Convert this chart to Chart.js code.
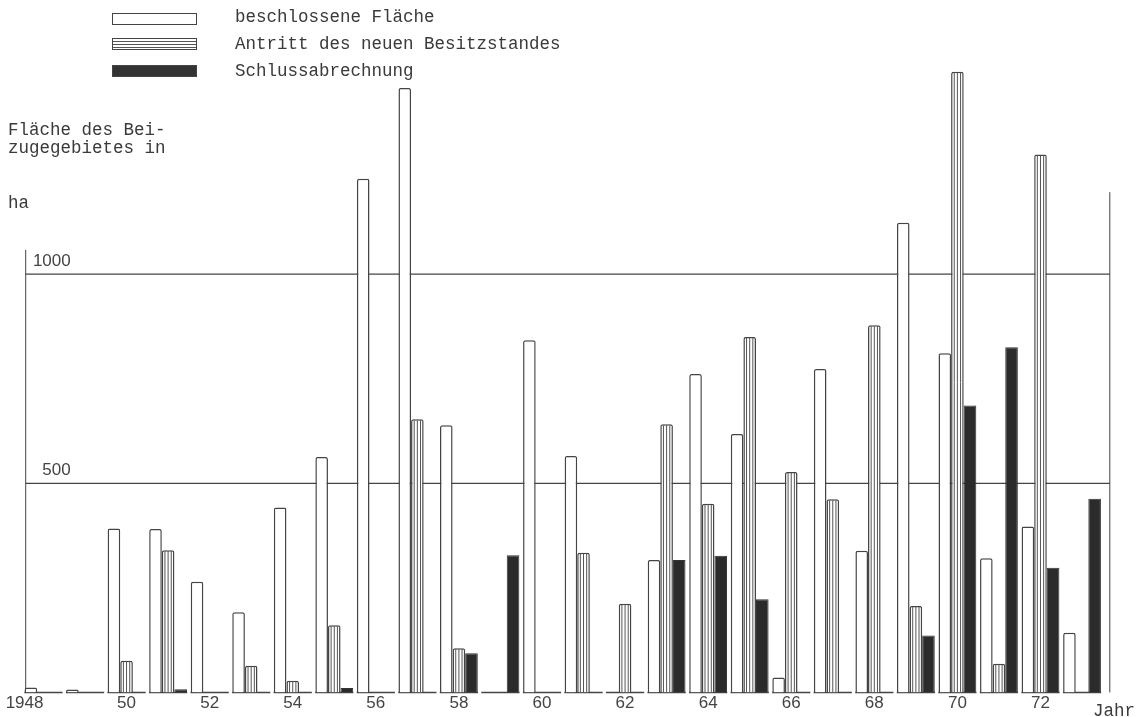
<!DOCTYPE html>
<html>
<head>
<meta charset="utf-8">
<script src="https://cdn.jsdelivr.net/npm/chart.js@4"></script>
<style>
  body { margin: 0; background: #fff; }
  #wrap { position: relative; width: 1136px; height: 717px; overflow: hidden; }
  #myChart { position: absolute; left: 0; top: 0; }
  .txt { position: absolute; font-family: "Liberation Mono", "DejaVu Sans Mono", monospace;
         font-size: 17.5px; line-height: 20px; color: #3a3a3a; white-space: pre; }
  .box { position: absolute; left: 112px; width: 83px; height: 10px; border: 1.5px solid #444; }
</style>
</head>
<body>
<div id="wrap">
  <canvas id="myChart" width="1136" height="717"></canvas>
  <div class="box" style="top:13px; background:#fff;"></div>
  <div class="box" style="top:38px; background:repeating-linear-gradient(to bottom,#fff 0,#fff 2px,#555 2px,#555 3px);"></div>
  <div class="box" style="top:65px; background:#333;"></div>
  <div class="txt" style="left:235px; top:7px;">beschlossene Fläche</div>
  <div class="txt" style="left:235px; top:34px;">Antritt des neuen Besitzstandes</div>
  <div class="txt" style="left:235px; top:61px;">Schlussabrechnung</div>
  <div class="txt" style="left:8px; top:121px; line-height:18px;">Fläche des Bei-
zugegebietes in</div>
  <div class="txt" style="left:8px; top:193px;">ha</div>
  <div class="txt" style="left:1093px; top:701px;">Jahr</div>
</div>
<script>
const years = [1948, 1949, 1950, 1951, 1952, 1953, 1954, 1955, 1956, 1957, 1958, 1959, 1960,
               1961, 1962, 1963, 1964, 1965, 1966, 1967, 1968, 1969, 1970, 1971, 1972, 1973];
// ha per year
const beschlossen = [12, 7, 392, 391, 265, 192, 442, 563, 1228, 1445, 639, null, 842,
                     565, null, 317, 761, 618, 36, 773, 339, 1123, 811, 321, 397, 143];
const antritt = [null, null, 76, 340, null, 64, 28, 161, null, 653, 106, null, null,
                 334, 212, 641, 451, 850, 527, 462, 878, 207, 1484, 69, 1286, null];
const schluss = [null, null, null, 8, null, null, null, 11, null, null, 94, 328, null,
                 null, null, 317, 327, 223, null, null, null, 136, 686, 825, 298, 463];
const yTicks = [500, 1000];

const lineCol = '#444';

// hand drawn frame: grid lines, side lines, base segments under each year
const framePlugin = {
    id: 'frame',
    beforeDatasetsDraw(chart) {
        const ctx = chart.ctx;
        const x = chart.scales.x;
        const y = chart.scales.y;
        const left = x.left + 3;
        const right = x.right + 7;
        ctx.save();
        ctx.strokeStyle = lineCol;
        ctx.lineWidth = 1.2;
        yTicks.forEach(v => {
            const py = y.getPixelForValue(v);
            ctx.beginPath();
            ctx.moveTo(left, py);
            ctx.lineTo(right, py);
            ctx.stroke();
        });
        // tick labels sit just above their line
        ctx.fillStyle = '#444';
        ctx.font = '17px "Liberation Sans"';
        ctx.textAlign = 'right';
        ctx.textBaseline = 'middle';
        yTicks.forEach(v => {
            ctx.fillText(String(v), left + 45, y.getPixelForValue(v) - 13);
        });
        ctx.lineWidth = 1;
        ctx.beginPath();
        ctx.moveTo(left, y.getPixelForValue(1058));
        ctx.lineTo(left, y.getPixelForValue(0));
        ctx.moveTo(right, y.getPixelForValue(1196));
        ctx.lineTo(right, y.getPixelForValue(0));
        ctx.stroke();
        ctx.lineWidth = 1.4;
        const step = (x.right - x.left) / years.length;
        const base = y.getPixelForValue(0);
        years.forEach((yr, i) => {
            const c = x.getPixelForValue(i);
            ctx.beginPath();
            ctx.moveTo(c - step * 0.46, base);
            ctx.lineTo(c + step * 0.46, base);
            ctx.stroke();
        });
        ctx.restore();
    },
    afterDatasetsDraw(chart) {
        // vertical stripes inside the "Antritt" bars
        const ctx = chart.ctx;
        const meta = chart.getDatasetMeta(1);
        ctx.save();
        ctx.strokeStyle = '#555';
        ctx.lineWidth = 1;
        meta.data.forEach((bar, i) => {
            if (antritt[i] == null) return;
            const w = bar.width;
            const x0 = bar.x - w / 2;
            for (let k = 1; k <= 3; k++) {
                const px = x0 + w * k / 4;
                ctx.beginPath();
                ctx.moveTo(px, bar.y + 1);
                ctx.lineTo(px, bar.base);
                ctx.stroke();
            }
        });
        ctx.restore();
    }
};

function createGraph() {
    const ctx = document.getElementById('myChart');
    new Chart(ctx, {
        type: 'bar',
        data: {
            labels: years,
            datasets: [{
                label: 'beschlossene Fläche',
                data: beschlossen,
                backgroundColor: '#fff',
                borderColor: lineCol,
                borderWidth: 1.5,
                borderSkipped: 'bottom',
                borderRadius: { topLeft: 2, topRight: 2 }
            }, {
                label: 'Antritt des neuen Besitzstandes',
                data: antritt,
                backgroundColor: '#fff',
                borderColor: lineCol,
                borderWidth: 1.5,
                borderSkipped: 'bottom',
                borderRadius: { topLeft: 2, topRight: 2 }
            }, {
                label: 'Schlussabrechnung',
                data: schluss,
                backgroundColor: '#2b2b2b',
                borderColor: '#333',
                borderWidth: 1,
                borderSkipped: 'bottom'
            }]
        },
        options: {
            responsive: false,
            animation: false,
            layout: { padding: { left: 22.7, right: 33.2, top: 23.1, bottom: 0 } },
            datasets: { bar: { categoryPercentage: 0.91, barPercentage: 1.0 } },
            plugins: { legend: { display: false }, tooltip: { enabled: false } },
            scales: {
                x: {
                    grid: { display: false, drawTicks: false },
                    border: { display: false },
                    afterFit(scale) { scale.height = 24.5; },
                    ticks: {
                        autoSkip: false,
                        maxRotation: 0,
                        padding: 1,
                        color: '#444',
                        font: { family: 'Liberation Sans', size: 17 },
                        callback(val, i) {
                            const yr = years[i];
                            if (yr % 2) return '';
                            if (i === 0) return yr + '        ';
                            return String(yr).slice(2);
                        }
                    }
                },
                y: {
                    min: 0,
                    max: 1600,
                    grid: { display: false, drawTicks: false },
                    border: { display: false },
                    afterFit(scale) { scale.width = 0; },
                    ticks: { display: false }
                }
            }
        },
        plugins: [framePlugin]
    });
}
createGraph();
</script>
</body>
</html>
